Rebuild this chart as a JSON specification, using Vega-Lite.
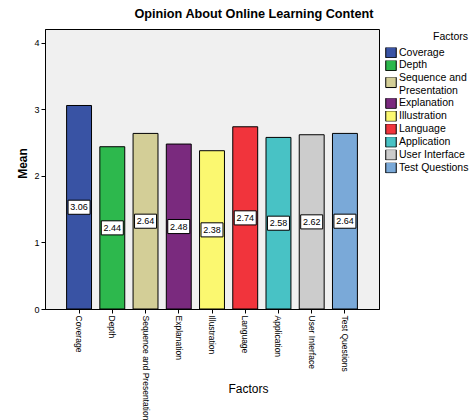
{
  "$schema": "https://vega.github.io/schema/vega-lite/v6.json",
  "width": 334,
  "height": 280,
  "autosize": "none",
  "padding": {"left": 45, "top": 29, "right": 91, "bottom": 111},
  "background": "white",
  "title": {
    "text": "Opinion About Online Learning Content",
    "font": "Liberation Sans",
    "fontSize": 12.7,
    "fontWeight": "bold",
    "color": "black",
    "dx": 42,
    "offset": 8
  },
  "config": {
    "font": "Liberation Sans",
    "view": {"fill": "#f0f0f0", "stroke": "black", "strokeWidth": 1}
  },
  "data": {
    "values": [
      {"Factor": "Coverage", "Mean": 3.06},
      {"Factor": "Depth", "Mean": 2.44},
      {"Factor": "Sequence and Presentation", "Mean": 2.64},
      {"Factor": "Explanation", "Mean": 2.48},
      {"Factor": "Illustration", "Mean": 2.38},
      {"Factor": "Language", "Mean": 2.74},
      {"Factor": "Application", "Mean": 2.58},
      {"Factor": "User Interface", "Mean": 2.62},
      {"Factor": "Test Questions", "Mean": 2.64}
    ]
  },
  "transform": [{"calculate": "datum.Mean / 2", "as": "Mid"}],
  "encoding": {
    "x": {
      "field": "Factor",
      "type": "nominal",
      "sort": ["Coverage", "Depth", "Sequence and Presentation", "Explanation", "Illustration", "Language", "Application", "User Interface", "Test Questions"],
      "scale": {"paddingInner": 0.25, "paddingOuter": 0.65},
      "axis": {
        "title": "Factors",
        "titleFontSize": 12,
        "titleFontWeight": "normal",
        "titleColor": "black",
        "titleX": 203,
        "titleY": 79,
        "titleBaseline": "middle",
        "labelAngle": 90,
        "labelFontSize": 8.5,
        "labelColor": "black",
        "labelPadding": 2,
        "labelLimit": 300,
        "tickSize": 4,
        "tickColor": "black",
        "domainColor": "black"
      }
    }
  },
  "layer": [
    {
      "mark": {"type": "bar", "stroke": "black", "strokeWidth": 1, "opacity": 1},
      "encoding": {
        "y": {
          "field": "Mean",
          "type": "quantitative",
          "scale": {"domain": [0, 4.21], "nice": false},
          "axis": {
            "title": "Mean",
            "titleFontSize": 12,
            "titleFontWeight": "bold",
            "titleColor": "black",
            "titleX": -23,
            "titleY": 134,
            "titleBaseline": "middle",
            "values": [0, 1, 2, 3, 4],
            "format": "d",
            "grid": false,
            "labelFontSize": 9,
            "labelColor": "black",
            "labelPadding": 2,
            "tickSize": 4,
            "tickColor": "black",
            "domainColor": "black"
          }
        },
        "color": {
          "field": "Factor",
          "type": "nominal",
          "sort": ["Coverage", "Depth", "Sequence and Presentation", "Explanation", "Illustration", "Language", "Application", "User Interface", "Test Questions"],
          "scale": {
            "domain": ["Coverage", "Depth", "Sequence and Presentation", "Explanation", "Illustration", "Language", "Application", "User Interface", "Test Questions"],
            "range": ["#3953a4", "#2db84d", "#d3ce97", "#7a2a7e", "#fbf870", "#f1343c", "#48c2c5", "#cccccc", "#7aa9d8"]
          },
          "legend": {
            "title": "Factors",
            "orient": "none",
            "legendX": 340,
            "legendY": 3,
            "titleFontSize": 10.5,
            "titleFontWeight": "normal",
            "titleColor": "black",
            "titleAnchor": "end",
            "titlePadding": 5,
            "labelFontSize": 10.5,
            "labelColor": "black",
            "labelOffset": 2,
            "labelLimit": 200,
            "labelExpr": "datum.label == 'Sequence and Presentation' ? ['Sequence and', 'Presentation'] : datum.label",
            "symbolType": "square",
            "symbolSize": 110,
            "symbolStrokeColor": "black",
            "symbolStrokeWidth": 1,
            "symbolOpacity": 1,
            "gridAlign": "none",
            "clipHeight": 10,
            "rowPadding": 1.9,
            "encode": {
              "labels": {
                "update": {
                  "dy": {"signal": "datum.label == 'Sequence and Presentation' ? -4 : 0"}
                }
              }
            }
          }
        }
      }
    },
    {
      "mark": {
        "type": "point",
        "shape": "M-1,-0.64H1V0.64H-1Z",
        "size": 484,
        "filled": true,
        "fill": "white",
        "stroke": "black",
        "strokeWidth": 1,
        "opacity": 1
      },
      "encoding": {
        "y": {"field": "Mid", "type": "quantitative"}
      }
    },
    {
      "mark": {"type": "text", "fontSize": 9, "color": "black", "align": "center", "baseline": "middle"},
      "encoding": {
        "y": {"field": "Mid", "type": "quantitative"},
        "text": {"field": "Mean", "type": "quantitative", "format": ".2f"}
      }
    }
  ]
}
